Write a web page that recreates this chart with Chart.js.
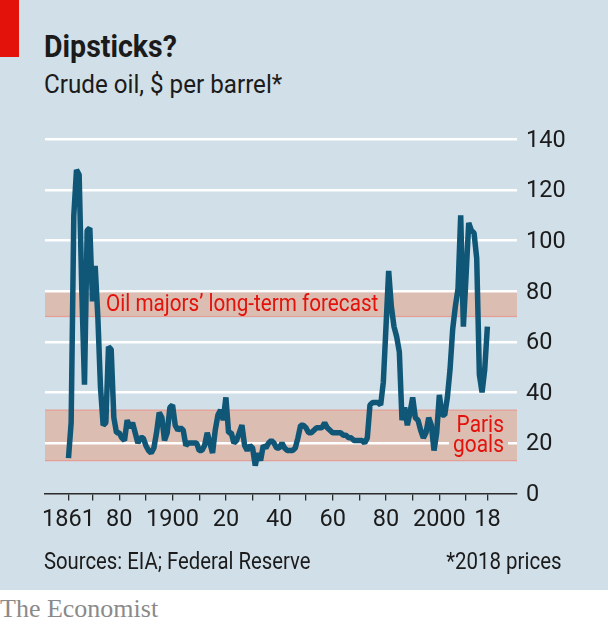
<!DOCTYPE html>
<html><head><meta charset="utf-8">
<script src="https://cdn.jsdelivr.net/npm/chart.js@4/dist/chart.umd.min.js"></script>
<style>
html,body{margin:0;padding:0;background:#fff;}
#wrap{position:relative;width:608px;height:625px;overflow:hidden;background:#fff;}
#panel{position:absolute;left:0;top:0;width:608px;height:590px;background:#d1dfe8;}
#red{position:absolute;left:0;top:0;width:19px;height:57px;background:#e3120b;}
.t{position:absolute;white-space:nowrap;font-family:Roboto,sans-serif;color:#1b1b1b;line-height:1;}
#title{left:44px;top:31px;font-size:31px;font-weight:bold;transform:scaleX(0.92);transform-origin:left top;}
#sub{left:44px;top:71px;font-size:26px;transform:scaleX(0.93);transform-origin:left top;}
#src{left:44px;top:550px;font-size:23.5px;transform:scaleX(0.863);transform-origin:left top;}
#note{right:46px;top:550px;font-size:23.5px;transform:scaleX(0.87);transform-origin:right top;}
#eco{left:0;top:596px;font-family:'Liberation Serif','DejaVu Serif',serif;font-size:26px;color:#8a8a8a;}
canvas{position:absolute;left:0;top:0;}
</style>
</head><body>
<div id="wrap">
 <div id="panel"></div>
 <div id="red"></div>
 <div class="t" id="title">Dipsticks?</div>
 <div class="t" id="sub">Crude oil, $ per barrel*</div>
 <canvas id="c" width="608" height="590"></canvas>
 <div class="t" id="src">Sources: EIA; Federal Reserve</div>
 <div class="t" id="note">*2018 prices</div>
 <div class="t" id="eco">The Economist</div>
</div>
<script>
// ---- data ----
const firstYear = 1861;
const oilPrice = [
 14, 28, 110, 128, 126, 80, 43, 104, 105, 76,      // 1861-1870
 90, 70, 42, 27, 28, 58, 57, 30, 24, 24,           // 1871-1880
 22, 21, 29, 26, 28, 24, 20, 22, 22, 19,           // 1881-1890
 17, 16, 18, 24, 32, 30, 21, 24, 34, 35,           // 1891-1900
 27, 25, 26, 25, 19, 20, 20, 20, 20, 17,           // 1901-1910
 17, 19, 24, 20, 16, 25, 31, 33, 29, 38,           // 1911-1920
 24, 24, 20, 21, 24, 27, 19, 17, 19, 18,           // 1921-1930
 11, 16, 13, 19, 18, 20, 21, 20, 18, 18,           // 1931-1940
 20, 18, 17, 17, 17, 18, 22, 27, 27, 26,           // 1941-1950
 24, 24, 25, 26, 26, 26, 28, 26, 25, 24,           // 1951-1960
 24, 24, 24, 23, 23, 22, 22, 21, 21, 21,           // 1961-1970
 21, 20, 22, 35, 36, 36, 36, 35, 44, 66,           // 1971-1980
 88, 74, 66, 62, 56, 29, 34, 27, 32, 38,           // 1981-1990
 30, 29, 25, 22, 24, 30, 27, 17, 24, 39,           // 1991-2000
 31, 31, 38, 49, 65, 74, 81, 110, 66, 86,          // 2001-2010
 107, 104, 103, 93, 47, 40, 49, 66                 // 2011-2018
];
const xTickYears = [1861, 1870, 1880, 1890, 1900, 1910, 1920, 1930, 1940, 1950, 1960, 1970, 1980, 1990, 2000, 2010, 2018];
const xLabelYears = [1861, 1880, 1900, 1920, 1940, 1960, 1980, 2000, 2018];
const xLabelText  = ['1861', '80', '1900', '20', '40', '60', '80', '2000', '18'];
const yTicks = [0, 20, 40, 60, 80, 100, 120, 140];
const bandFrom  = [70, 13];
const bandTo    = [80, 33];
const bandLabel = [["Oil majors’ long-term forecast"], ["Paris", "goals"]];

// ---- chart ----
const FONT = "Roboto,sans-serif";
const BAND_FILL = '#dbbdb2';
const BAND_EDGE = '#e59d95';
const RED = '#e3120b';
const points = oilPrice.map((v, i) => ({x: firstYear + i, y: v}));

function drawSquashed(ctx, txt, x, y, sx, align) {
  ctx.save();
  ctx.translate(x, y);
  ctx.scale(sx, 1);
  ctx.textAlign = align;
  ctx.fillText(txt, 0, 0);
  ctx.restore();
}

const bandPlugin = {
  id: 'bands',
  beforeDraw(chart) {
    const {ctx, chartArea: {left, right}, scales: {y}} = chart;
    ctx.save();
    for (let i = 0; i < bandFrom.length; i++) {
      const yt = y.getPixelForValue(bandTo[i]);
      const yb = y.getPixelForValue(bandFrom[i]);
      ctx.fillStyle = BAND_FILL;
      ctx.fillRect(left, yt, right - left, yb - yt);
      ctx.fillStyle = BAND_EDGE;
      ctx.fillRect(left, yt - 0.5, right - left, 1.2);
      ctx.fillRect(left, yb - 0.6, right - left, 1.2);
    }
    ctx.restore();
  },
  afterDatasetsDraw(chart) {
    const {ctx, scales: {y}} = chart;
    ctx.save();
    ctx.font = '23.5px ' + FONT;
    ctx.textBaseline = 'middle';
    // oil majors label: left aligned inside band
    {
      const sx = 0.88;
      const yt = y.getPixelForValue(bandTo[0]);
      const yb = y.getPixelForValue(bandFrom[0]);
      const txt = bandLabel[0][0];
      const w = ctx.measureText(txt).width * sx;
      const x0 = 106;
      ctx.fillStyle = BAND_FILL;
      ctx.fillRect(x0 - 3, yt + 1.5, w + 6, yb - yt - 2.2);
      ctx.fillStyle = RED;
      drawSquashed(ctx, txt, x0, (yt + yb) / 2 + 1, sx, 'left');
    }
    // Paris goals label: right aligned, two lines
    {
      const sx = 0.89;
      const lines = bandLabel[1];
      const xr = 504;
      const yc = (y.getPixelForValue(bandTo[1]) + y.getPixelForValue(bandFrom[1])) / 2;
      const lh = 20.5;
      lines.forEach((ln, k) => {
        const yy = yc + (k - (lines.length - 1) / 2) * lh;
        const w = ctx.measureText(ln).width * sx;
        ctx.fillStyle = BAND_FILL;
        ctx.fillRect(xr - w - 4, yy - 9, w + 8, 18);
      });
      ctx.fillStyle = RED;
      lines.forEach((ln, k) => {
        const yy = yc + (k - (lines.length - 1) / 2) * lh;
        drawSquashed(ctx, ln, xr, yy + 1, sx, 'right');
      });
    }
    ctx.restore();
  }
};

new Chart(document.getElementById('c'), {
  type: 'line',
  data: {
    datasets: [{
      data: points,
      borderColor: '#0f5677',
      borderWidth: 5.5,
      pointRadius: 0,
      tension: 0,
      fill: false,
      borderJoinStyle: 'bevel',
      borderCapStyle: 'butt'
    }]
  },
  options: {
    responsive: false,
    animation: false,
    events: [],
    layout: {padding: {left: 45, top: 139.5, right: 0, bottom: 0}},
    plugins: {legend: {display: false}, tooltip: {enabled: false}, title: {display: false}},
    scales: {
      x: {
        type: 'linear',
        min: 1852.2,
        max: 2029.1,
        border: {display: true, color: '#2b2b2b', width: 1.5},
        grid: {drawOnChartArea: false, drawTicks: true, tickLength: 7, color: '#2b2b2b', lineWidth: 1.3},
        afterBuildTicks: (s) => { s.ticks = xTickYears.map(v => ({value: v})); },
        afterFit: (s) => { s.height = 590 - 493.5; },
        ticks: {
          autoSkip: false, maxRotation: 0, minRotation: 0, padding: 6,
          color: '#1b1b1b', font: {family: FONT, size: 23.5},
          callback: (v) => { const k = xLabelYears.indexOf(v); return k >= 0 ? xLabelText[k] : ''; }
        }
      },
      y: {
        position: 'right',
        min: 0, max: 140,
        afterBuildTicks: (s) => { s.ticks = yTicks.map(v => ({value: v})); },
        afterFit: (s) => { s.width = 608 - 517; },
        border: {display: false},
        grid: {
          drawTicks: false,
          lineWidth: 2.5,
          color: (c) => (c.tick && c.tick.value === 0) ? 'rgba(0,0,0,0)' : '#ffffff'
        },
        ticks: {padding: 9, labelOffset: 1.5, color: '#1b1b1b', font: {family: FONT, size: 23.5}}
      }
    }
  },
  plugins: [bandPlugin]
});
</script>
</body></html>
